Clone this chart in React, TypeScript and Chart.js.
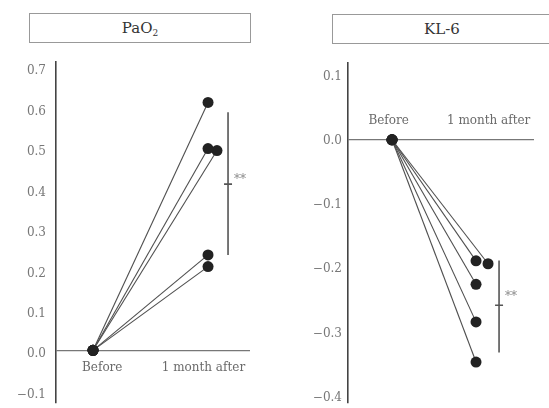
import React, { useEffect, useRef } from "react";
import { Chart, registerables } from "chart.js";

Chart.register(...registerables);

// ---- data ----
const categories = ["Before", "1 month after"];

const paO2Change = [0.613, 0.499, 0.494, 0.236, 0.207];
const paO2AfterX = [1, 1, 1.078, 1, 1];
const paO2Ticks = [-0.1, 0, 0.1, 0.2, 0.3, 0.4, 0.5, 0.6, 0.7];
const paO2Sig = [0.236, 0.411, 0.589]; // low, mean, high

const kl6Change = [-0.1885, -0.193, -0.225, -0.2835, -0.346];
const kl6AfterX = [1, 1.143, 1, 1, 1];
const kl6Ticks = [-0.4, -0.3, -0.2, -0.1, 0, 0.1];
const kl6Sig = [-0.331, -0.2575, -0.188];

const sigLabel = "**";

type Panel = {
  values: number[];
  afterX: number[];
  ticks: number[];
  sig: number[];
  yMin: number;
  yMax: number;
  xMin: number;
  xMax: number;
  axisWidth: number;
  padTop: number;
  padRight: number;
  tickPadding: number;
  labelOffset: number;
  catX: number[];
  catDy: number;
  sigX: number;
  starDy: number;
  width: number;
};

const FONT = '"DejaVu Serif", "Liberation Serif", serif';

function fmt(v: number) {
  const s = Math.abs(v).toFixed(1);
  return v < -1e-9 ? "\u2212" + s : s;
}

function makePlugin(p: Panel) {
  return {
    id: "annot",
    afterDatasetsDraw(chart: any) {
      const { ctx } = chart;
      const x = chart.scales.x;
      const y = chart.scales.y;
      ctx.save();
      // category labels
      ctx.font = "12px " + FONT;
      ctx.fillStyle = "#6a6a6a";
      ctx.textAlign = "center";
      ctx.textBaseline = "middle";
      const y0 = y.getPixelForValue(0);
      categories.forEach((c, i) => {
        ctx.fillText(c, x.getPixelForValue(p.catX[i]), y0 + p.catDy);
      });
      // significance bar (mean ± SD)
      const bx = x.getPixelForValue(p.sigX);
      const yl = y.getPixelForValue(p.sig[0]);
      const ym = y.getPixelForValue(p.sig[1]);
      const yh = y.getPixelForValue(p.sig[2]);
      ctx.strokeStyle = "#555";
      ctx.lineWidth = 1.6;
      ctx.beginPath();
      ctx.moveTo(bx, yl);
      ctx.lineTo(bx, yh);
      ctx.moveTo(bx - 4, ym);
      ctx.lineTo(bx + 4, ym);
      ctx.stroke();
      ctx.font = "12px " + FONT;
      ctx.fillStyle = "#888";
      ctx.textAlign = "left";
      ctx.fillText(sigLabel, bx + 6, ym + p.starDy);
      ctx.restore();
    },
  };
}

function PanelChart({ p }: { p: Panel }) {
  const ref = useRef<HTMLCanvasElement | null>(null);
  useEffect(() => {
    if (!ref.current) return;
    const datasets = p.values.map((v, i) => ({
      data: [
        { x: 0, y: 0 },
        { x: p.afterX[i], y: v },
      ],
      borderColor: "#4f4f4f",
      borderWidth: 1.1,
      pointRadius: 5.5,
      pointBackgroundColor: "#222",
      pointBorderColor: "#222",
      pointBorderWidth: 0,
      fill: false,
      tension: 0,
    }));
    const chart = new Chart(ref.current, {
      type: "line",
      data: { datasets },
      options: {
        animation: false,
        responsive: false,
        events: [],
        layout: {
          padding: { top: p.padTop, right: p.padRight, bottom: 0, left: 0 },
        },
        plugins: {
          legend: { display: false },
          tooltip: { enabled: false },
          title: { display: false },
        },
        scales: {
          x: {
            type: "linear",
            display: false,
            min: p.xMin,
            max: p.xMax,
          },
          y: {
            type: "linear",
            min: p.yMin,
            max: p.yMax,
            afterFit: (s: any) => {
              s.width = p.axisWidth;
              s.paddingTop = 0;
              s.paddingBottom = 0;
            },
            afterBuildTicks: (s: any) => {
              s.ticks = p.ticks.map((v) => ({ value: v }));
            },
            border: { display: true, color: "#444", width: 1.6 },
            grid: {
              drawTicks: false,
              lineWidth: 1.2,
              color: (c: any) =>
                c.tick && Math.abs(c.tick.value) < 1e-9 ? "#777" : "rgba(0,0,0,0)",
            },
            ticks: {
              padding: p.tickPadding,
              labelOffset: p.labelOffset,
              color: "#777",
              font: { family: FONT, size: 12 },
              callback: (v: any) => fmt(Number(v)),
            },
          },
        },
      },
      plugins: [makePlugin(p)],
    } as any);
    return () => chart.destroy();
  }, [p]);
  return (
    <canvas
      ref={ref}
      width={p.width}
      height={408}
      style={{ display: "block", width: p.width, height: 408 }}
    />
  );
}

const leftPanel: Panel = {
  values: paO2Change,
  afterX: paO2AfterX,
  ticks: paO2Ticks,
  sig: paO2Sig,
  yMin: -0.129,
  yMax: 0.713,
  xMin: -0.322,
  xMax: 1.365,
  axisWidth: 56,
  padTop: 62,
  padRight: 25,
  tickPadding: 10,
  labelOffset: 4,
  catX: [0.08, 0.96],
  catDy: 18,
  sigX: 1.174,
  starDy: -4,
  width: 275,
};

const rightPanel: Panel = {
  values: kl6Change,
  afterX: kl6AfterX,
  ticks: kl6Ticks,
  sig: kl6Sig,
  yMin: -0.409,
  yMax: 0.1195,
  xMin: -0.524,
  xMax: 1.69,
  axisWidth: 73,
  padTop: 63,
  padRight: 15,
  tickPadding: 6,
  labelOffset: 1,
  catX: [-0.04, 1.15],
  catDy: -19,
  sigX: 1.274,
  starDy: -8,
  width: 274,
};

const boxStyle: React.CSSProperties = {
  position: "absolute",
  boxSizing: "border-box",
  border: "1.5px solid #999",
  background: "#fff",
  color: "#333",
  fontFamily: FONT,
  fontSize: 15,
  textAlign: "center",
  display: "flex",
  alignItems: "center",
  justifyContent: "center",
};

export default function App() {
  return (
    <div
      style={{
        position: "fixed",
        left: 0,
        top: 0,
        width: 549,
        height: 408,
        overflow: "hidden",
        background: "#fff",
      }}
    >
      <div style={{ position: "absolute", left: 0, top: 0, display: "flex" }}>
        <PanelChart p={leftPanel} />
        <PanelChart p={rightPanel} />
      </div>
      <div style={{ ...boxStyle, left: 29, top: 13, width: 222, height: 30 }}>
        <span>
          PaO
          <sub style={{ fontSize: 9, verticalAlign: "-3px", lineHeight: 0 }}>2</sub>
        </span>
      </div>
      <div style={{ ...boxStyle, left: 332, top: 14, width: 220, height: 30 }}>
        <span>KL-6</span>
      </div>
    </div>
  );
}
